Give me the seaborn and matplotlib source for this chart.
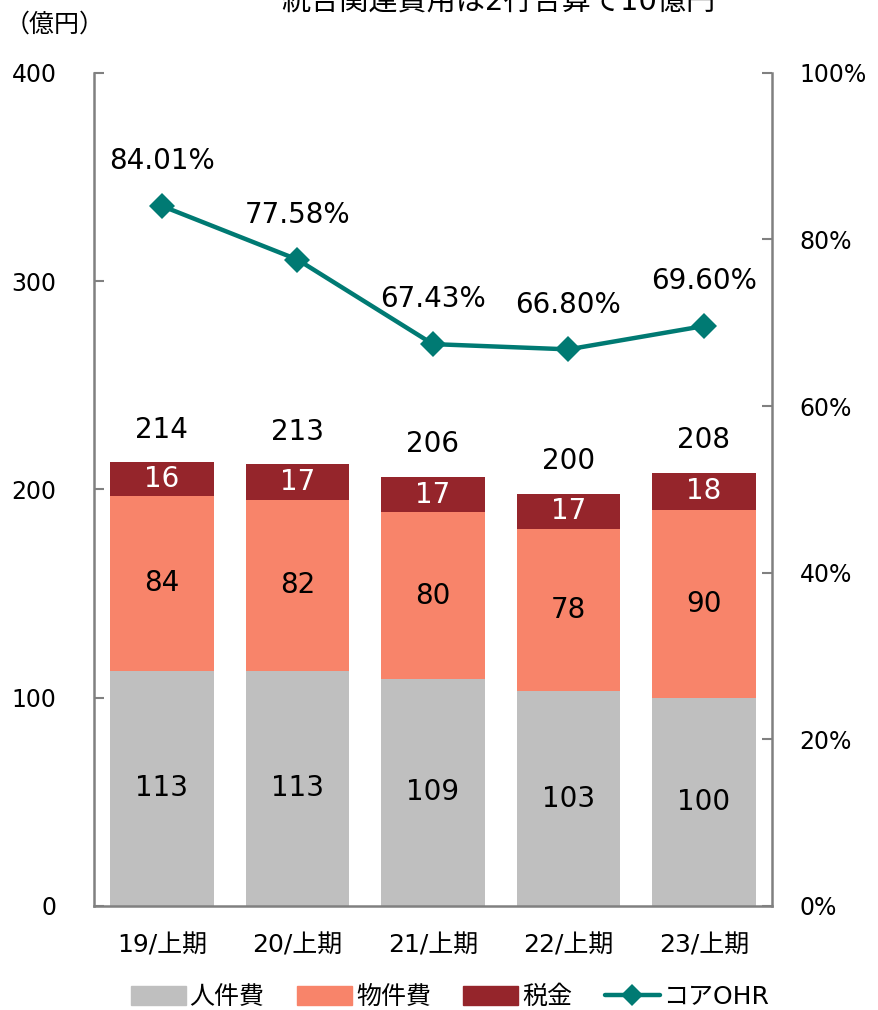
import matplotlib
matplotlib.use('Agg')
import matplotlib.pyplot as plt
import matplotlib.ticker as mticker
from matplotlib.patches import Patch
from matplotlib.lines import Line2D
import numpy as np
import seaborn as sns

sns.set_theme(style='white')
plt.rcParams['font.family'] = ['DejaVu Sans', 'Noto Sans CJK JP']
plt.rcParams['text.color'] = 'black'
plt.rcParams['xtick.color'] = 'black'
plt.rcParams['ytick.color'] = 'black'

periods = ['19/上期', '20/上期', '21/上期', '22/上期', '23/上期']
personnel = [113, 113, 109, 103, 100]   # 人件費
property_ = [84, 82, 80, 78, 90]        # 物件費
taxes = [16, 17, 17, 17, 18]            # 税金
totals = [214, 213, 206, 200, 208]
ohr = [84.01, 77.58, 67.43, 66.80, 69.60]  # コアOHR (%)

c_gray = '#BFBFBF'
c_salmon = '#F8846A'
c_red = '#95252B'
c_teal = '#007A73'
c_axis = '#808080'

fig = plt.figure(figsize=(8.79, 10.10), dpi=100)
ax = fig.add_axes([0.107, 0.103, 0.771, 0.825])

x = np.arange(len(periods))
lvl1 = np.array(personnel)
lvl2 = lvl1 + np.array(property_)
lvl3 = lvl2 + np.array(taxes)

w = 0.765
sns.barplot(x=periods, y=lvl3, color=c_red, saturation=1, width=w, linewidth=0, ax=ax)
sns.barplot(x=periods, y=lvl2, color=c_salmon, saturation=1, width=w, linewidth=0, ax=ax)
sns.barplot(x=periods, y=lvl1, color=c_gray, saturation=1, width=w, linewidth=0, ax=ax)

fs = 20
for i in range(len(periods)):
    ax.text(i, lvl1[i] / 2, str(personnel[i]), ha='center', va='center', fontsize=fs, color='black')
    ax.text(i, (lvl1[i] + lvl2[i]) / 2, str(property_[i]), ha='center', va='center', fontsize=fs, color='black')
    ax.text(i, (lvl2[i] + lvl3[i]) / 2, str(taxes[i]), ha='center', va='center', fontsize=fs, color='white')
    ax.text(i, lvl3[i] + 9, str(totals[i]), ha='center', va='bottom', fontsize=fs, color='black')

ax.set_ylim(0, 400)
ax.set_xlim(-0.5, len(periods) - 0.5)
ax.set_yticks([0, 100, 200, 300, 400])
ax.set_ylabel('')
ax.set_xlabel('')

ax2 = ax.twinx()
sns.lineplot(x=x, y=np.array(ohr) / 100, color=c_teal, linewidth=3.2, marker='D',
             markersize=13, markeredgewidth=0, ax=ax2)
for i, v in enumerate(ohr):
    ax2.text(i, v / 100 + 0.037, f'{v:.2f}%', ha='center', va='bottom', fontsize=fs, color='black')
ax2.set_ylim(0, 1)
ax2.set_yticks([0, 0.2, 0.4, 0.6, 0.8, 1.0])
ax2.yaxis.set_major_formatter(mticker.FuncFormatter(lambda v, p: f'{v * 100:.0f}%'))
ax2.set_xlim(-0.5, len(periods) - 0.5)

for a in (ax, ax2):
    for s in a.spines.values():
        s.set_visible(False)
ax.spines['left'].set_visible(True)
ax.spines['bottom'].set_visible(True)
ax2.spines['right'].set_visible(True)
for s in (ax.spines['left'], ax.spines['bottom'], ax2.spines['right']):
    s.set_color(c_axis)
    s.set_linewidth(1.8)

ax.tick_params(axis='y', direction='in', length=7, width=1.5, color=c_axis,
               labelcolor='black', labelsize=17, pad=27, left=True)
ax.tick_params(axis='x', length=0, labelsize=18, labelcolor='black', pad=20)
ax2.tick_params(axis='y', direction='in', length=7, width=1.5, color=c_axis,
                labelcolor='black', labelsize=17, pad=20, right=True)
ax.grid(False)
ax2.grid(False)

handles = [Patch(color=c_gray, label='人件費'),
           Patch(color=c_salmon, label='物件費'),
           Patch(color=c_red, label='税金'),
           Line2D([0], [0], color=c_teal, linewidth=3.2, marker='D', markersize=11,
                  markeredgewidth=0, label='コアOHR')]
leg = fig.legend(handles=handles, loc='center', bbox_to_anchor=(0.512, 0.013), ncol=4,
                 frameon=False, fontsize=18, handlelength=2.2, handleheight=0.8,
                 handletextpad=0.15, columnspacing=1.3)
for t in leg.get_texts():
    t.set_color('black')

fig.text(0.005, 1 - 25 / 1010, '（億円）', ha='left', va='center', fontsize=18)
fig.text(0.567, 1 - 3 / 1010, '統合関連費用は2行合算で10億円', ha='center', va='center', fontsize=21)

fig.savefig('out.png', dpi=100)
